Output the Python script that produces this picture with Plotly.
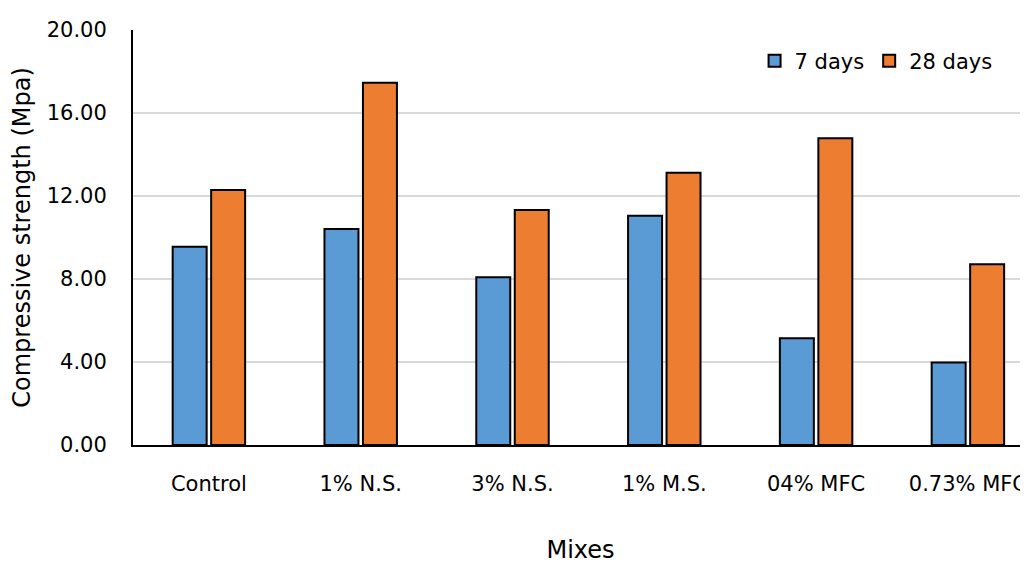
import plotly.graph_objects as go

mixes = ["Control", "1% N.S.", "3% N.S.", "1% M.S.", "04% MFC", "0.73% MFC"]
days7 = [9.56, 10.41, 8.08, 11.05, 5.15, 3.98]
days28 = [12.29, 17.46, 11.33, 13.12, 14.78, 8.71]
yticks = [0, 4, 8, 12, 16, 20]
ytick_text = ["0.00", "4.00", "8.00", "12.00", "16.00", "20.00"]

FONT = "DejaVu Sans"
fig = go.Figure()
fig.add_trace(go.Bar(x=mixes, y=days7, name="7 days",
                     marker=dict(color="#5B9BD5", line=dict(color="#000000", width=2))))
fig.add_trace(go.Bar(x=mixes, y=days28, name="28 days",
                     marker=dict(color="#ED7D31", line=dict(color="#000000", width=2))))

fig.update_layout(
    width=1020, height=556,
    margin=dict(l=125, r=0, t=22, b=119),
    paper_bgcolor="white", plot_bgcolor="white",
    barmode="group", bargap=0.493, bargroupgap=0.117,
    font=dict(family=FONT, size=20, color="#000000"),
    showlegend=True,
    legend=dict(orientation="h", x=0.966, xanchor="right", y=0.925, yanchor="middle",
                font=dict(family=FONT, size=21), bgcolor="rgba(0,0,0,0)",
                itemwidth=30, tracegroupgap=0),
    xaxis=dict(range=[-0.5, -0.5 + 895 / 151.8], showline=True, linecolor="#000000", linewidth=2,
               ticks="", ticklabelstandoff=19, showgrid=False, automargin=False,
               tickfont=dict(family=FONT, size=21),
               title=dict(text="Mixes", standoff=50, font=dict(family=FONT, size=24))),
    yaxis=dict(range=[0, 20], tickvals=yticks, ticktext=ytick_text, showline=True,
               linecolor="#000000", linewidth=2, gridcolor="#D9D9D9", gridwidth=2,
               zeroline=False, ticks="", ticklabelstandoff=20,
               tickfont=dict(family=FONT, size=21),
               title=dict(text="Compressive strength (Mpa)", standoff=10,
                          font=dict(family=FONT, size=24))),
)

fig.write_html("out.html")
